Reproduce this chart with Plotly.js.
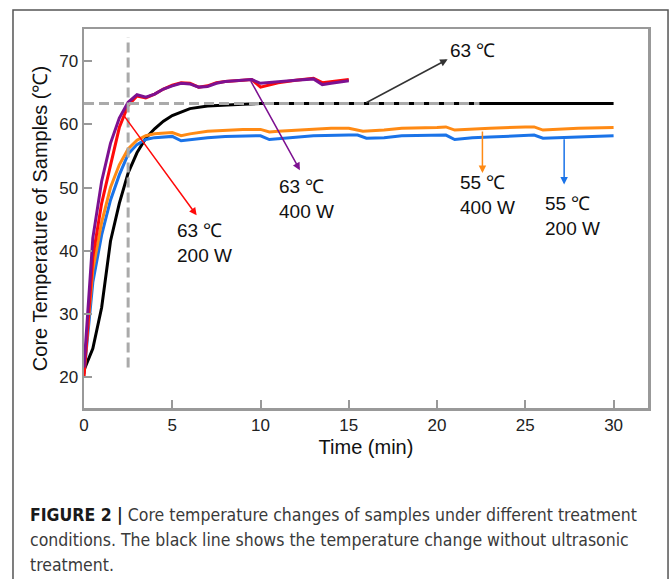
<!DOCTYPE html>
<html>
<head>
<meta charset="utf-8">
<script src="https://cdn.plot.ly/plotly-3.0.1.min.js"></script>
<style>
  html, body { margin: 0; padding: 0; background: #fff; }
  #wrap { position: relative; width: 672px; height: 579px; overflow: hidden; }
  #chart { position: absolute; left: 0; top: 0; width: 672px; height: 579px; }
  .cap {
    position: absolute; left: 30px; white-space: nowrap;
    font-family: "DejaVu Sans Condensed", "Liberation Sans", sans-serif;
    font-size: 17.5px; line-height: 22px; color: #3a3a3a;
  }
  .cap b { color: #1a1a1a; }
</style>
</head>
<body>
<div id="wrap">
  <div id="chart"></div>
  <div class="cap" style="top:504px"><b>FIGURE 2 |</b>&nbsp;Core temperature changes of samples under different treatment</div>
  <div class="cap" style="top:529px">conditions. The black line shows the temperature change without ultrasonic</div>
  <div class="cap" style="top:554px">treatment.</div>
</div>
<script>
// ---- data ----
const blackT = [0, 0.5, 1, 1.5, 2, 2.5, 3, 3.5, 4, 4.5, 5, 5.5, 6, 7, 8, 9, 10, 12, 15, 20, 25, 30];
const blackY = [21.1, 24.5, 31, 41.5, 47.5, 52.3, 55.5, 57.8, 59.3, 60.5, 61.4, 62, 62.5, 62.9, 63.1, 63.2, 63.3, 63.3, 63.3, 63.3, 63.3, 63.3];

const blueT = [0, 0.5, 1, 1.5, 2, 2.5, 3, 3.5, 4, 4.5, 5, 5.5, 6, 7, 8, 9, 10, 10.5, 11, 12, 13, 15, 15.5, 16, 17, 18, 20, 20.5, 21, 22, 23, 25, 25.5, 26, 27, 28, 30];
const blueY = [20.5, 35, 42.5, 48, 52, 55.3, 56.8, 57.6, 57.9, 58.0, 58.1, 57.4, 57.6, 57.9, 58.1, 58.2, 58.2, 57.6, 57.7, 58.0, 58.2, 58.3, 58.3, 57.8, 57.9, 58.2, 58.3, 58.3, 57.6, 57.9, 58.0, 58.3, 58.3, 57.8, 57.9, 58.1, 58.2];

const orangeT = [0, 0.5, 1, 1.5, 2, 2.5, 3, 3.5, 4, 4.5, 5, 5.5, 6, 7, 8, 9, 10, 10.5, 11, 12, 13, 14, 15, 15.8, 17, 18, 20, 20.5, 21, 22, 23, 25, 25.5, 26, 27, 28, 30];
const orangeY = [21, 37, 44.5, 50, 53.6, 56.1, 57.5, 58.2, 58.5, 58.6, 58.7, 58.2, 58.5, 58.9, 59.1, 59.2, 59.2, 58.8, 58.9, 59.1, 59.3, 59.4, 59.4, 58.9, 59.1, 59.4, 59.5, 59.6, 59.1, 59.3, 59.4, 59.6, 59.6, 59.1, 59.3, 59.4, 59.5];

const redT = [0, 0.5, 1, 1.5, 2, 2.5, 3, 3.5, 4, 4.5, 5, 5.5, 6, 6.5, 7, 7.5, 8, 9, 9.5, 10, 11, 12, 13, 13.5, 14, 15];
const redY = [19.9, 39, 47.5, 53.5, 59.5, 63, 64.5, 64.2, 64.8, 65.6, 66.2, 66.6, 66.5, 65.9, 66.1, 66.6, 66.8, 67.0, 67.1, 65.9, 66.6, 67.0, 67.3, 66.6, 66.8, 67.1];

const purpleT = [0, 0.5, 1, 1.5, 2, 2.5, 3, 3.5, 4, 4.5, 5, 5.5, 6, 6.5, 7, 7.5, 8, 9, 9.5, 10, 11, 12, 13, 13.5, 14, 15];
const purpleY = [21.5, 42, 51, 57, 61, 63.5, 64.7, 64.3, 64.8, 65.6, 66.1, 66.5, 66.4, 65.9, 66.0, 66.5, 66.8, 67.0, 67.1, 66.5, 66.8, 67.0, 67.2, 66.3, 66.5, 66.9];

// guide lines (63 °C target, 2.5 min)
const hGuideT = [0, 22.4];
const hGuideY = [63.3, 63.3];
const vGuideT = [2.5, 2.5];
const vGuideY = [21.5, 73.8];

const xTicks = [0, 5, 10, 15, 20, 25, 30];
const yTicks = [20, 30, 40, 50, 60, 70];

// callouts: label, text position, arrow tail, arrow head, colour
const calloutLabels = ['63 ℃<br>200 W', '63 ℃<br>400 W', '55 ℃<br>400 W', '55 ℃<br>200 W', '63 ℃'];
const calloutTextX  = [5.15, 10.93, 21.18, 26.0, 20.6];
const calloutTextY  = [41.3, 48.2, 48.8, 45.5, 71.7];
const arrowTailX    = [2.23, 9.4, 22.57, 27.2, 15.9];
const arrowTailY    = [61.5, 67.1, 59.1, 57.9, 63.3];
const arrowHeadX    = [6.38, 12.23, 22.57, 27.2, 20.6];
const arrowHeadY    = [45.6, 52.75, 52.3, 50.5, 70.3];
const calloutColors = ['#ff0a0a', '#7d1191', '#ff8a14', '#1a73e8', '#333333'];

const FONT = 'Liberation Sans, Arial, Helvetica, sans-serif';

function line(x, y, color, width, dash) {
  return { x: x, y: y, type: 'scatter', mode: 'lines',
           line: { color: color, width: width, dash: dash || 'solid' },
           hoverinfo: 'skip', showlegend: false };
}

const traces = [
  line(blackT, blackY, '#000000', 3),
  line(blueT, blueY, '#1a73e8', 3),
  line(orangeT, orangeY, '#ff8a14', 3),
  line(redT, redY, '#ff0a0a', 3),
  line(purpleT, purpleY, '#7d1191', 3),
  line(hGuideT, hGuideY, '#aaaaaa', 3, '10px,5px'),
  line(vGuideT, vGuideY, '#aaaaaa', 3, '10px,5px')
];

const annotations = [];
for (let i = 0; i < calloutLabels.length; i++) {
  annotations.push({
    x: arrowHeadX[i], y: arrowHeadY[i], xref: 'x', yref: 'y',
    ax: arrowTailX[i], ay: arrowTailY[i], axref: 'x', ayref: 'y',
    text: '', showarrow: true, arrowhead: 2, arrowsize: 1, arrowwidth: 1.5,
    arrowcolor: calloutColors[i], standoff: 0, startstandoff: 0
  });
  annotations.push({
    x: calloutTextX[i], y: calloutTextY[i], xref: 'x', yref: 'y',
    text: calloutLabels[i], showarrow: false, xanchor: 'left', yanchor: 'middle',
    align: 'left', font: { family: FONT, size: 19, color: '#111' }
  });
}

const layout = {
  width: 672, height: 579,
  margin: { l: 84, r: 24, t: 29, b: 171 },
  paper_bgcolor: '#ffffff', plot_bgcolor: '#ffffff',
  font: { family: FONT, color: '#222' },
  showlegend: false,
  xaxis: {
    range: [0, 31.95], tickvals: xTicks, ticktext: xTicks.map(String),
    ticks: 'inside', ticklen: 8, tickwidth: 2, tickcolor: '#999',
    showline: true, linecolor: '#999', linewidth: 2.5, mirror: true,
    showgrid: false, zeroline: false,
    tickfont: { family: FONT, size: 17, color: '#222' },
    title: { text: 'Time (min)', font: { family: FONT, size: 20, color: '#111' }, standoff: 6 }
  },
  yaxis: {
    range: [15.1, 75.1], tickvals: yTicks, ticktext: yTicks.map(String),
    ticks: 'inside', ticklen: 8, tickwidth: 2, tickcolor: '#999',
    showline: true, linecolor: '#999', linewidth: 2.5, mirror: true,
    showgrid: false, zeroline: false,
    tickfont: { family: FONT, size: 17, color: '#222' },
    title: { text: 'Core Temperature of Samples (℃)', font: { family: FONT, size: 20, color: '#111' }, standoff: 6 }
  },
  shapes: [{
    type: 'rect', xref: 'paper', yref: 'paper',
    x0: -0.1259, x1: 1.0355, y0: -0.6, y1: 1.0501,
    line: { color: '#555', width: 1.5 }, fillcolor: 'rgba(0,0,0,0)', layer: 'below'
  }],
  annotations: annotations
};

Plotly.newPlot('chart', traces, layout, { staticPlot: true, displayModeBar: false });
</script>
</body>
</html>
